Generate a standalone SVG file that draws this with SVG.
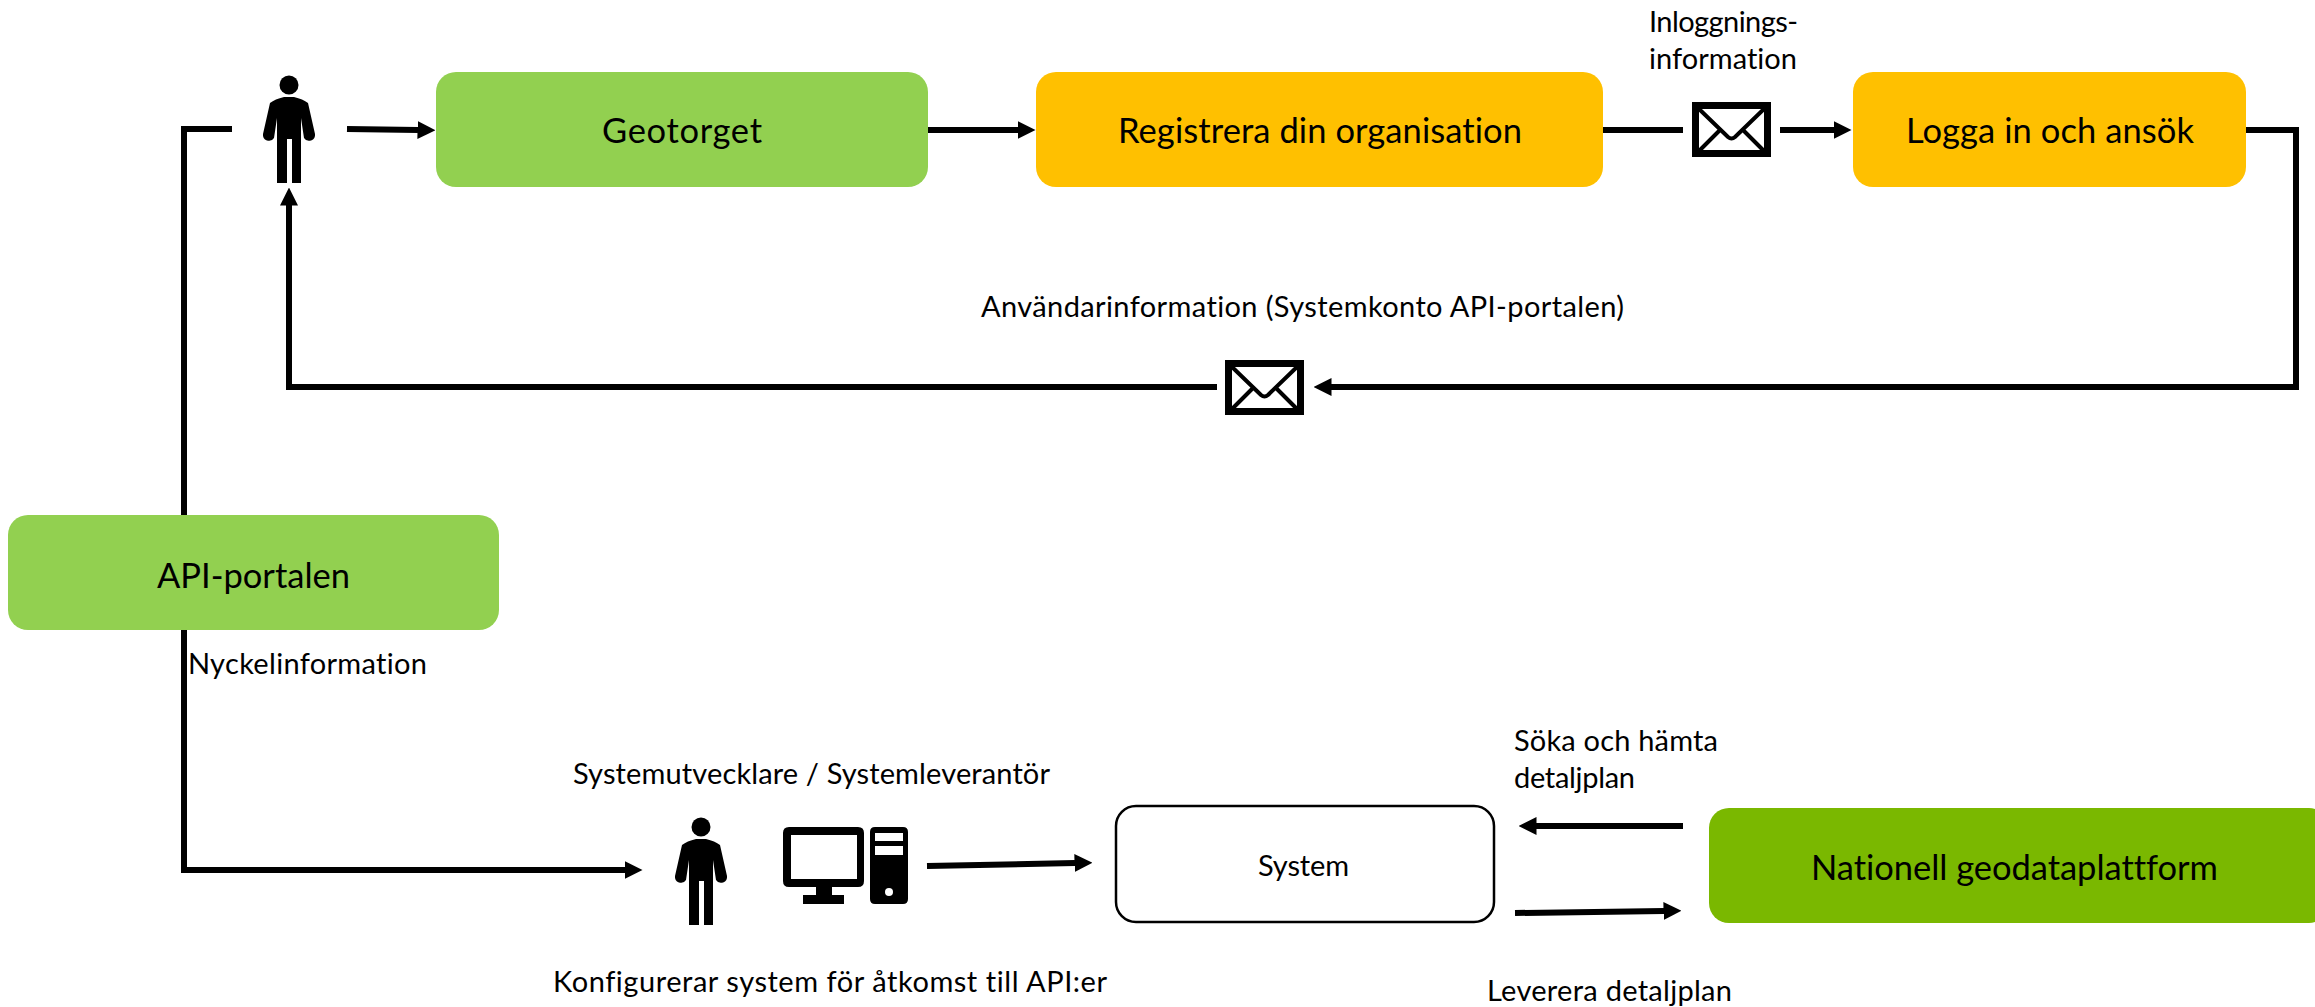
<svg xmlns="http://www.w3.org/2000/svg" width="2315" height="1007" viewBox="0 0 2315 1007">
<style>
text{font-family:"Lato","Noto Sans","Liberation Sans",sans-serif;fill:#000;font-variant-ligatures:none}
.big{font-size:34.500px}
.mid{font-size:29px}
.lbl{font-size:29px}
.c{fill:none;stroke:#000;stroke-width:6;stroke-linejoin:miter}
.env{fill:#fff;stroke:#000;stroke-width:7}
.fold{fill:none;stroke:#000;stroke-width:4}
</style>
<defs>
<marker id="a" markerUnits="userSpaceOnUse" markerWidth="18" markerHeight="18" refX="0.500" refY="9" orient="auto"><path d="M0 0L18 9L0 18Z"/></marker>
<g id="person"><circle cx="0" cy="0" r="9.500"/><path d="M-5 12H5Q14 14 19 18L26 49A6 6 0 0 1 15 53L12 33V98H3V54H-2V98H-12V33L-15 53A6 6 0 0 1 -26 49L-19 18Q-14 14 -5 12Z"/></g>
<g id="envelope"><rect x="3.500" y="3.500" width="72" height="48" class="env"/><path d="M6 6L36 35Q39.500 38 43 35L73 6M6 50L28 28M73 50L51 28" class="fold"/></g>
</defs>
<rect width="2315" height="1007" fill="#fff"/>
<g id="connectors">
<path class="c" d="M232 129H184V870H625" marker-end="url(#a)"/>
<path class="c" d="M347 129L418 130" marker-end="url(#a)"/>
<path class="c" d="M928 130H1018" marker-end="url(#a)"/>
<path class="c" d="M1603 130H1683"/>
<path class="c" d="M1780 130H1834" marker-end="url(#a)"/>
<path class="c" d="M2246 130H2296V387H1331" marker-end="url(#a)"/>
<path class="c" d="M1217 387H289V205" marker-end="url(#a)"/>
<path class="c" d="M927 866L1075 863" marker-end="url(#a)"/>
<path class="c" d="M1683 826H1536" marker-end="url(#a)"/>
<path class="c" d="M1515 913L1664 911" marker-end="url(#a)"/>
</g>
<g id="geotorget"><rect x="436" y="72" width="492" height="115" rx="20" fill="#92d050"/><text class="big" x="602" y="143" textLength="160">Geotorget</text></g>
<g id="registrera"><rect x="1036" y="72" width="567" height="115" rx="20" fill="#ffc000"/><text class="big" x="1118" y="143" textLength="404">Registrera din organisation</text></g>
<g id="logga"><rect x="1853" y="72" width="393" height="115" rx="20" fill="#ffc000"/><text class="big" x="1906" y="143" textLength="288">Logga in och ansök</text></g>
<g id="api-portalen"><rect x="8" y="515" width="491" height="115" rx="20" fill="#92d050"/><text class="big" x="157" y="588" textLength="193">API-portalen</text></g>
<g id="nationell"><rect x="1709" y="808" width="620" height="115" rx="20" fill="#7ab800"/><text class="big" x="1811" y="880" textLength="407">Nationell geodataplattform</text></g>
<g id="system"><rect x="1116" y="806" width="378" height="116" rx="20" fill="#fff" stroke="#000" stroke-width="2.500"/><text class="mid" x="1258" y="876" textLength="91">System</text></g>
<g id="person-top"><use href="#person" x="289" y="85"/></g>
<g id="person-bottom"><use href="#person" x="701" y="827"/></g>
<g id="computer"><path fill-rule="evenodd" d="M789 827H858Q864 827 864 833V881Q864 887 858 887H832V895H844V904H803V895H816V887H789Q783 887 783 881V833Q783 827 789 827ZM791 835V879H857V835Z"/><path fill-rule="evenodd" d="M875 827H903Q908 827 908 832V899Q908 904 903 904H875Q870 904 870 899V832Q870 827 875 827ZM875 833V841H903V833ZM875 846V855H903V846Z"/><circle cx="889" cy="892" r="4" fill="#fff"/></g>
<g id="envelope-top"><use href="#envelope" x="1692" y="102"/></g>
<g id="envelope-bottom"><use href="#envelope" x="1225" y="360"/></g>
<g id="labels">
<text class="lbl" x="1649" y="32" textLength="149">Inloggnings-</text>
<text class="lbl" x="1649" y="69" textLength="148">information</text>
<text class="lbl" x="981" y="317" textLength="643">Användarinformation (Systemkonto API-portalen)</text>
<text class="lbl" x="188" y="674" textLength="239">Nyckelinformation</text>
<text class="lbl" x="573" y="784" textLength="477">Systemutvecklare / Systemleverantör</text>
<text class="lbl" x="553" y="992" textLength="554">Konfigurerar system för åtkomst till API:er</text>
<text class="lbl" x="1514" y="751" textLength="204">Söka och hämta</text>
<text class="lbl" x="1514" y="788" textLength="121">detaljplan</text>
<text class="lbl" x="1487" y="1001" textLength="245">Leverera detaljplan</text>
</g>
</svg>
